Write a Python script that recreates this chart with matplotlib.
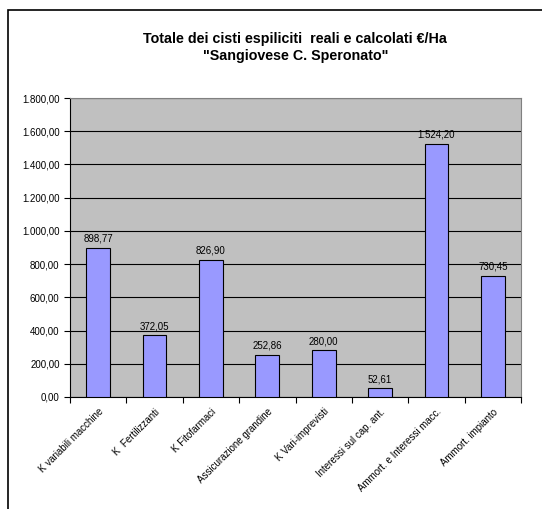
import matplotlib.pyplot as plt
from matplotlib.patches import Rectangle
from matplotlib.ticker import FuncFormatter

plt.rcParams['font.family'] = ['Liberation Sans', 'DejaVu Sans']

categories = ["K variabili macchine", "K  Fertilizzanti", "K Fitofarmaci",
              "Assicurazione grandine", "K Vari-imprevisti", "Interessi sul cap. ant.",
              "Ammort. e Interessi macc.", "Ammort. impianto"]
values = [898.77, 372.05, 826.90, 252.86, 280.00, 52.61, 1524.20, 730.45]


def it_fmt(v):
    s = f"{v:,.2f}"
    return s.replace(",", "X").replace(".", ",").replace("X", ".")


fig = plt.figure(figsize=(5.42, 5.09), dpi=100)
fig.patches.append(Rectangle((8 / 542, -0.05), 1.2, 1 - 10 / 509 + 0.05,
                             transform=fig.transFigure, fill=False,
                             edgecolor="black", linewidth=1.2))

ax = fig.add_axes([70 / 542, 1 - 397 / 509, (521 - 70) / 542, (397 - 98) / 509])
ax.set_facecolor("#C0C0C0")
x = list(range(len(categories)))
ax.bar(x, values, width=0.42, color="#9999FF", edgecolor="black", linewidth=0.8, zorder=3)
for xi, v in zip(x, values):
    ax.text(xi, v + 25, it_fmt(v), ha="center", va="bottom", fontsize=7, zorder=4)

ax.set_xlim(-0.5, len(categories) - 0.5)
ax.set_ylim(0, 1800)
ax.set_yticks(range(0, 1801, 200))
ax.yaxis.set_major_formatter(FuncFormatter(lambda v, p: it_fmt(v)))
ax.grid(axis="y", color="black", linewidth=0.8, zorder=1)
ax.set_xticks([i + 0.5 for i in range(-1, len(categories))])
ax.set_xticklabels([])
ax.set_xticks(x, minor=True)
ax.set_xticklabels(categories, minor=True, rotation=45, ha="right",
                   rotation_mode="anchor", fontsize=7)
ax.tick_params(axis="x", which="minor", length=0, pad=7)
ax.tick_params(axis="x", which="major", length=4, direction="out")
ax.tick_params(axis="y", length=4, direction="out", labelsize=7)
for s in ["top", "right"]:
    ax.spines[s].set_color("#808080")
ax.spines["left"].set_linewidth(0.8)
ax.spines["bottom"].set_linewidth(0.8)

fig.text(0.545, 1 - 39 / 509, "Totale dei cisti espiliciti  reali e calcolati €/Ha",
         ha="center", va="center", fontsize=10.3, fontweight="bold")
fig.text(0.545, 1 - 56 / 509, "\"Sangiovese C. Speronato\"",
         ha="center", va="center", fontsize=10.3, fontweight="bold")

fig.savefig("out.png", dpi=100)
